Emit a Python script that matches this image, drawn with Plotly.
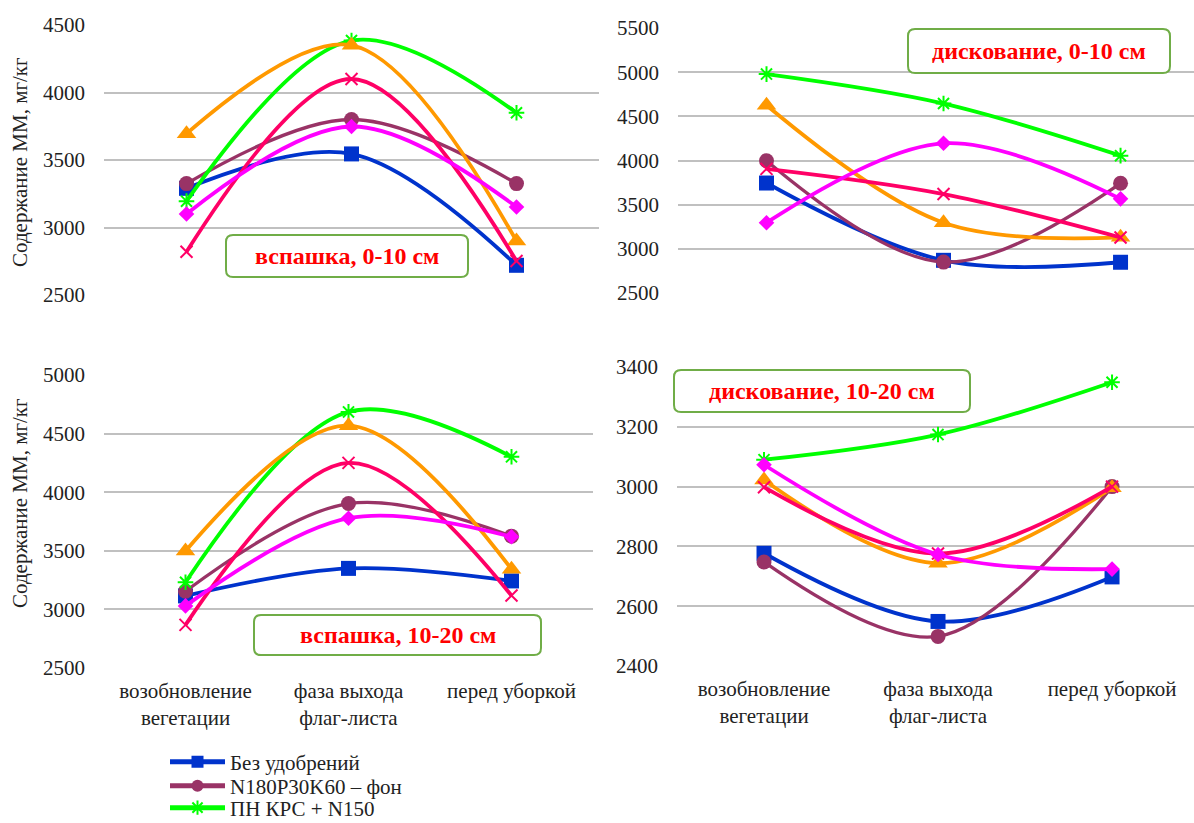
import plotly.graph_objects as go

W, H = 1194, 823

categories = ["возобновление<br>вегетации", "фаза выхода<br>флаг-листа", "перед уборкой"]

series_names = [
    "Без удобрений",
    "N180P30K60 – фон",
    "ПН КРС + N150",
    "вариант 4",
    "вариант 5",
    "вариант 6",
]

# вспашка, 0-10 см
plough_0_10 = {
    "Без удобрений": [3290, 3545, 2720],
    "N180P30K60 – фон": [3325, 3800, 3325],
    "ПН КРС + N150": [3195, 4385, 3850],
    "вариант 4": [3695, 4350, 2900],
    "вариант 5": [2820, 4100, 2752],
    "вариант 6": [3100, 3748, 3152],
}
# дискование, 0-10 см
disc_0_10 = {
    "Без удобрений": [3745, 2870, 2848],
    "N180P30K60 – фон": [3998, 2850, 3742],
    "ПН КРС + N150": [4978, 4645, 4055],
    "вариант 4": [4625, 3296, 3130],
    "вариант 5": [3905, 3620, 3128],
    "вариант 6": [3296, 4195, 3566],
}
# вспашка, 10-20 см
plough_10_20 = {
    "Без удобрений": [3115, 3350, 3243],
    "N180P30K60 – фон": [3155, 3903, 3625],
    "ПН КРС + N150": [3232, 4685, 4302],
    "вариант 4": [3498, 4568, 3343],
    "вариант 5": [2868, 4250, 3118],
    "вариант 6": [3030, 3778, 3620],
}
# дискование, 10-20 см
disc_10_20 = {
    "Без удобрений": [2777, 2549, 2698],
    "N180P30K60 – фон": [2748, 2499, 3000],
    "ПН КРС + N150": [3090, 3174, 3349],
    "вариант 4": [3022, 2744, 2996],
    "вариант 5": [2998, 2776, 3000],
    "вариант 6": [3073, 2773, 2724],
}

panel_titles = ["вспашка, 0-10 см", "дискование, 0-10 см", "вспашка, 10-20 см", "дискование, 10-20 см"]
y_title = "Содержание ММ, мг/кг"

colors = ["#0033CC", "#993366", "#00FF00", "#FF9900", "#FF0066", "#FF00FF"]
symbols = ["square", "circle", "asterisk-open", "triangle-up", "x-thin-open", "diamond"]
msizes = [15, 15, 13, 17, 12, 12]
lwidths = [3.8, 3.3, 3.8, 3.8, 3.8, 3.8]

FONT = "Liberation Serif, Tinos, Times New Roman, DejaVu Serif, serif"

fig = go.Figure()

panels = [
    (plough_0_10, "x", "y"),
    (disc_0_10, "x2", "y2"),
    (plough_10_20, "x3", "y3"),
    (disc_10_20, "x4", "y4"),
]

legend_ids = ["legend", "legend2", "legend3"]

for pi, (data, xa, ya) in enumerate(panels):
    for si, name in enumerate(series_names):
        sym = symbols[si]
        is_line_sym = sym.endswith("-open")
        marker = dict(
            symbol=sym,
            size=msizes[si],
            color=colors[si],
            line=dict(color=colors[si], width=2 if is_line_sym else 0),
        )
        shown = (pi == 0 and si < 3)
        fig.add_trace(go.Scatter(
            x=categories,
            y=data[name],
            mode="lines+markers",
            name=name,
            legendgroup=name,
            showlegend=shown,
            legend=legend_ids[si] if si < 3 else "legend",
            line=dict(color=colors[si], width=lwidths[si], shape="spline", smoothing=1.0),
            marker=marker,
            xaxis=xa,
            yaxis=ya,
            cliponaxis=False,
        ))


def px_x(px):
    return px / W


def px_y(py):
    return 1 - py / H


tick_font = dict(family=FONT, size=21, color="#222222")
grid = dict(showgrid=True, gridcolor="#C0C0C0", gridwidth=2, zeroline=False, showline=False)

axes = {
    "1": ((104, 599), [-0.5, 2.5], (25, 295), [2500, 4500], 500, False),
    "2": ((678, 1194), [-0.5, 2.415], (28, 293), [2500, 5500], 500, False),
    "3": ((104, 593), [-0.5, 2.5], (375, 668), [2500, 5000], 500, True),
    "4": ((677, 1194), [-0.5, 2.471], (367, 666), [2400, 3400], 200, True),
}

layout_axes = {}
for k, (xd, xr, yd, yr, dt, showx) in axes.items():
    suffix = "" if k == "1" else k
    layout_axes["xaxis" + suffix] = dict(
        domain=[px_x(xd[0]), px_x(xd[1])],
        range=xr,
        type="category",
        anchor="y" + suffix,
        showgrid=False, zeroline=False, showline=False,
        showticklabels=showx,
        tickfont=tick_font,
        ticks="",
        ticklabelstandoff=8,
        automargin=False,
    )
    layout_axes["yaxis" + suffix] = dict(
        domain=[px_y(yd[1]), px_y(yd[0])],
        range=yr,
        dtick=dt,
        tick0=0,
        anchor="x" + suffix,
        tickfont=tick_font,
        ticks="",
        ticklabelstandoff=18,
        automargin=False,
        **grid,
    )

fig.update_layout(**layout_axes)

boxes = [
    (226, 235, 468, 277),
    (908, 29, 1170, 73),
    (254, 615, 541, 655),
    (674, 370, 970, 412),
]


def rounded_path(x0, y0, x1, y1, r=7):
    pts = []
    pts.append(f"M {px_x(x0 + r)},{px_y(y0)}")
    pts.append(f"L {px_x(x1 - r)},{px_y(y0)}")
    pts.append(f"Q {px_x(x1)},{px_y(y0)} {px_x(x1)},{px_y(y0 + r)}")
    pts.append(f"L {px_x(x1)},{px_y(y1 - r)}")
    pts.append(f"Q {px_x(x1)},{px_y(y1)} {px_x(x1 - r)},{px_y(y1)}")
    pts.append(f"L {px_x(x0 + r)},{px_y(y1)}")
    pts.append(f"Q {px_x(x0)},{px_y(y1)} {px_x(x0)},{px_y(y1 - r)}")
    pts.append(f"L {px_x(x0)},{px_y(y0 + r)}")
    pts.append(f"Q {px_x(x0)},{px_y(y0)} {px_x(x0 + r)},{px_y(y0)} Z")
    return " ".join(pts)


shapes = []
annotations = []
for (x0, y0, x1, y1), title in zip(boxes, panel_titles):
    shapes.append(dict(
        type="path", xref="paper", yref="paper",
        path=rounded_path(x0, y0, x1, y1),
        line=dict(color="#70AD47", width=2),
        fillcolor="white",
        layer="above",
    ))
    annotations.append(dict(
        x=px_x((x0 + x1) / 2), y=px_y((y0 + y1) / 2),
        xref="paper", yref="paper",
        text=f"<b>{title}</b>",
        showarrow=False,
        font=dict(family=FONT, size=24, color="#FF0000"),
        xanchor="center", yanchor="middle",
    ))

for cy in (162, 503):
    annotations.append(dict(
        x=px_x(20), y=px_y(cy), xref="paper", yref="paper",
        text=y_title, textangle=-90, showarrow=False,
        font=dict(family=FONT, size=21, color="#222222"),
        xanchor="center", yanchor="middle",
    ))

legend_common = dict(
    xanchor="left", yanchor="middle",
    bgcolor="rgba(0,0,0,0)",
    font=dict(family=FONT, size=21, color="#222222"),
    tracegroupgap=0,
    itemwidth=55,
    itemsizing="constant",
)
legend_rows = [762, 786, 808]

fig.update_layout(
    width=W, height=H,
    margin=dict(l=0, r=0, t=0, b=0, autoexpand=False),
    paper_bgcolor="white",
    plot_bgcolor="white",
    font=dict(family=FONT, size=21, color="#222222"),
    shapes=shapes,
    annotations=annotations,
    showlegend=True,
    legend=dict(x=px_x(165), y=px_y(legend_rows[0]), **legend_common),
    legend2=dict(x=px_x(165), y=px_y(legend_rows[1]), **legend_common),
    legend3=dict(x=px_x(165), y=px_y(legend_rows[2]), **legend_common),
)

fig.write_html("out.html")
